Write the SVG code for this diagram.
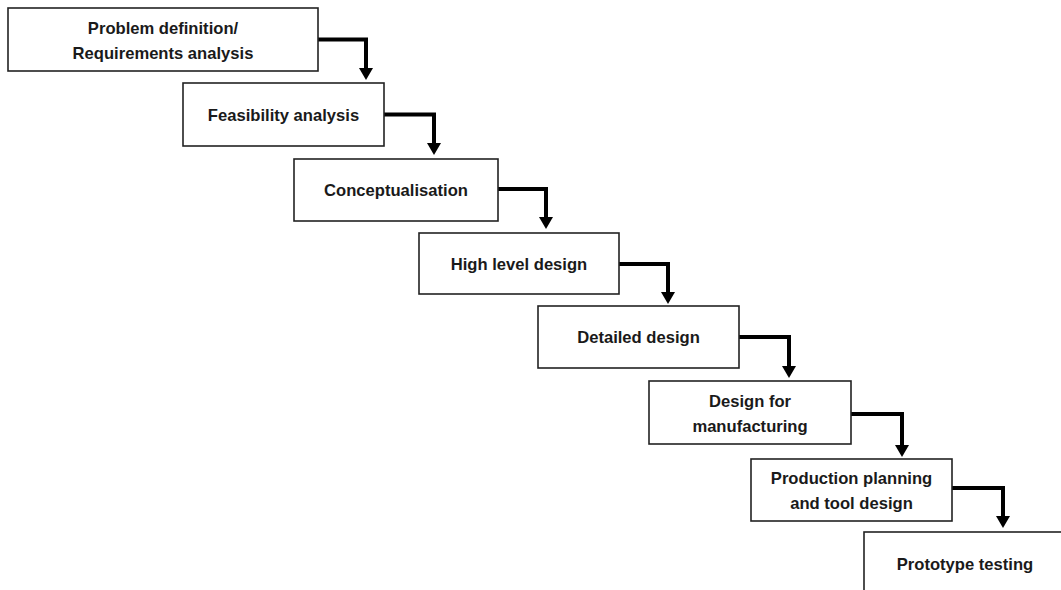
<svg xmlns="http://www.w3.org/2000/svg" width="1061" height="590" viewBox="0 0 1061 590">
<defs>
<style>
.box{fill:#fff;stroke:#222;stroke-width:1.6}
.lbl{font-family:"Liberation Sans",Arial,sans-serif;font-weight:bold;font-size:16.6px;fill:#1a1a1a;text-anchor:middle}
.con{fill:none;stroke:#000;stroke-width:4;stroke-linejoin:miter}
</style>
<marker id="ah" viewBox="0 0 12 14" refX="0" refY="7" markerWidth="12" markerHeight="14" markerUnits="userSpaceOnUse" orient="auto">
<path d="M0,0 L12,7 L0,14 z" fill="#000"/>
</marker>
</defs>
<rect width="1061" height="590" fill="#fff"/>
<g id="connectors">
<path class="con" d="M318,39.5 H366 V68" marker-end="url(#ah)"/>
<path class="con" d="M384,114.5 H434 V143" marker-end="url(#ah)"/>
<path class="con" d="M498,189 H546 V217" marker-end="url(#ah)"/>
<path class="con" d="M619,264 H668 V292" marker-end="url(#ah)"/>
<path class="con" d="M739,337 H789 V366" marker-end="url(#ah)"/>
<path class="con" d="M851,414 H902 V445" marker-end="url(#ah)"/>
<path class="con" d="M952,488 H1003 V516" marker-end="url(#ah)"/>
</g>
<g id="n1"><rect class="box" x="8" y="8" width="310" height="63"/><text class="lbl" x="163" y="33.5">Problem definition/</text><text class="lbl" x="163" y="58.5">Requirements analysis</text></g>
<g id="n2"><rect class="box" x="183" y="83" width="201" height="63"/><text class="lbl" x="283.5" y="121">Feasibility analysis</text></g>
<g id="n3"><rect class="box" x="294" y="159" width="204" height="62"/><text class="lbl" x="396" y="196">Conceptualisation</text></g>
<g id="n4"><rect class="box" x="419" y="233" width="200" height="61"/><text class="lbl" x="519" y="270">High level design</text></g>
<g id="n5"><rect class="box" x="538" y="306" width="201" height="62"/><text class="lbl" x="638.5" y="343">Detailed design</text></g>
<g id="n6"><rect class="box" x="649" y="381" width="202" height="63"/><text class="lbl" x="750" y="407">Design for</text><text class="lbl" x="750" y="432">manufacturing</text></g>
<g id="n7"><rect class="box" x="751" y="459" width="201" height="62"/><text class="lbl" x="851.5" y="484">Production planning</text><text class="lbl" x="851.5" y="509">and tool design</text></g>
<g id="n8"><rect class="box" x="864" y="532" width="202" height="62"/><text class="lbl" x="965" y="570">Prototype testing</text></g>
</svg>
